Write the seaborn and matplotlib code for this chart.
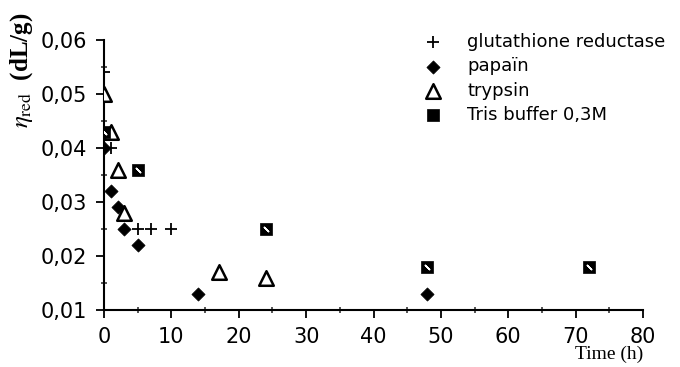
import numpy as np
import pandas as pd
import matplotlib
matplotlib.use('Agg')
import matplotlib.pyplot as plt
import seaborn as sns
from matplotlib.ticker import MultipleLocator, FuncFormatter

# Datos (tiempo en h, viscosidad reducida en dL/g)
gr_time = [0, 1, 5, 7, 10]
gr_eta = [0.054, 0.040, 0.025, 0.025, 0.025]

papain_time = [0, 1, 2, 3, 5, 14, 48]
papain_eta = [0.040, 0.032, 0.029, 0.025, 0.022, 0.013, 0.013]

trypsin_time = [0, 1, 2, 3, 17, 24]
trypsin_eta = [0.050, 0.043, 0.036, 0.028, 0.017, 0.016]

tris_time = [0, 5, 24, 48, 72]
tris_eta = [0.043, 0.036, 0.025, 0.018, 0.018]

series_names = ['glutathione reductase', 'papaïn', 'trypsin', 'Tris buffer 0,3M']

df_gr = pd.DataFrame({'t': gr_time, 'eta': gr_eta})
df_pap = pd.DataFrame({'t': papain_time, 'eta': papain_eta})
df_tryp = pd.DataFrame({'t': trypsin_time, 'eta': trypsin_eta})
df_tris = pd.DataFrame({'t': tris_time, 'eta': tris_eta})

sns.set_style('ticks')
plt.rcParams['font.family'] = ['DejaVu Sans']
plt.rcParams['mathtext.fontset'] = 'stix'
plt.rcParams['text.color'] = 'black'
plt.rcParams['axes.labelcolor'] = 'black'

fig = plt.figure(figsize=(6.8, 3.67), dpi=100)
ax = fig.add_axes([0.153, 0.155, 0.7926, 0.736])

sns.scatterplot(data=df_gr, x='t', y='eta', ax=ax, marker='+', s=70,
                color='black', linewidth=1.3, label=series_names[0], zorder=4)
sns.scatterplot(data=df_pap, x='t', y='eta', ax=ax, marker='D', s=45,
                color='black', edgecolor='black', linewidth=0.5,
                label=series_names[1], zorder=3)
sns.scatterplot(data=df_tryp, x='t', y='eta', ax=ax, marker='^', s=110,
                color='white', edgecolor='black', linewidth=1.8,
                label=series_names[2], zorder=3)
sns.scatterplot(data=df_tris, x='t', y='eta', ax=ax, marker='s', s=65,
                color='black', edgecolor='black', linewidth=0.5,
                label=series_names[3], zorder=3)
# petit motif blanc dans les carres
ax.scatter(df_tris['t'], df_tris['eta'], marker=(2, 2, 45), s=20,
           color='white', linewidth=1.0, zorder=5)

ax.set_xlim(0, 80)
ax.set_ylim(0.01, 0.06)
ax.xaxis.set_major_locator(MultipleLocator(10))
ax.xaxis.set_minor_locator(MultipleLocator(5))
ax.yaxis.set_major_locator(MultipleLocator(0.01))
ax.yaxis.set_minor_locator(MultipleLocator(0.005))
ax.yaxis.set_major_formatter(FuncFormatter(lambda v, p: f'{v:.2f}'.replace('.', ',')))

sns.despine(ax=ax)
for s in ['left', 'bottom']:
    ax.spines[s].set_linewidth(1.5)
    ax.spines[s].set_color('black')
ax.tick_params(which='major', direction='out', length=6, width=1.3,
               labelsize=15, pad=6, colors='black')
ax.tick_params(which='minor', direction='inout', length=5, width=1.1)

ax.set_xlabel('Time (h)', loc='right', fontsize=14, family='Liberation Serif',
              labelpad=-1)
ax.set_ylabel('')
fig.text(0.032, 0.965, r'$\eta_{\mathrm{red}}$  (dL/g)', rotation=90, ha='center',
         va='top', fontsize=18, family='Liberation Serif', fontweight='bold')

leg = ax.legend(loc='upper left', bbox_to_anchor=(0.6235, 0.91),
                bbox_transform=fig.transFigure, frameon=False, fontsize=13,
                handlelength=1.0, handletextpad=1.4, labelspacing=0.35,
                borderpad=0, borderaxespad=0)

fig.savefig('out.png', dpi=100)
